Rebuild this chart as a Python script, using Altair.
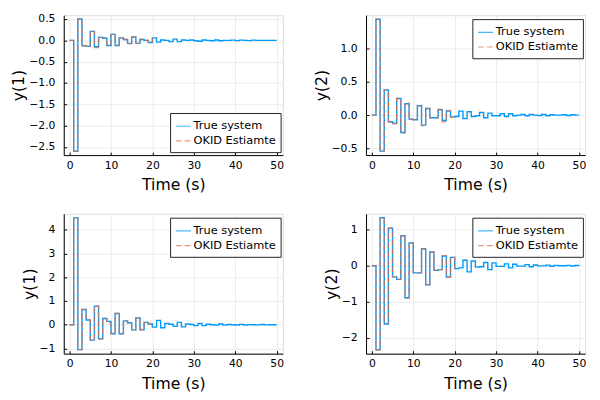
import altair as alt
import pandas as pd

# time samples
t_true = list(range(51))
t_est = list(range(21))

series_names = ["True system", "OKID Estiamte"]

# panel 1 : y(1), top-left
y11_true = [0, -2.60, 0.50, -0.13, -0.14, 0.21, -0.15, 0.07, 0.05, -0.12,
            0.14, -0.12, 0.06, 0.02, -0.07, 0.08, -0.07, 0.02, 0.00, -0.05,
            0.06, -0.04, 0.01, 0.00, -0.03, 0.03, -0.03, 0.01, 0.00, 0.01,
            -0.01, -0.02, 0.01, 0.00, -0.01, 0.01, -0.01, 0.00, 0.00, 0.005,
            -0.005, 0.005, 0.00, -0.005, 0.005, 0.00, 0.00, 0.00, 0.00, 0.00, 0.00]
y11_est = [0, -2.60, 0.50, -0.12, -0.14, 0.21, -0.17, 0.07, 0.06, -0.12,
           0.14, -0.11, 0.06, 0.02, -0.08, 0.08, -0.07, 0.03, 0.00, -0.04, 0.06]

# panel 2 : y(2), top-right
y21_true = [0, 1.44, -0.54, 0.38, -0.10, -0.12, 0.25, -0.26, 0.17, -0.06,
            -0.07, 0.14, -0.15, 0.10, -0.04, -0.04, 0.08, -0.08, 0.06, -0.03,
            -0.02, 0.06, -0.05, 0.05, -0.02, -0.01, 0.04, -0.04, 0.03, -0.01,
            -0.01, 0.02, -0.02, 0.02, -0.01, 0.00, 0.01, -0.01, 0.01, 0.00,
            -0.005, 0.01, -0.01, 0.005, 0.00, 0.00, 0.005, -0.005, 0.005, 0.00, 0.00]
y21_est = [0, 1.44, -0.54, 0.38, -0.10, -0.13, 0.25, -0.27, 0.18, -0.06,
           -0.07, 0.15, -0.16, 0.10, -0.04, -0.04, 0.09, -0.10, 0.07, -0.03, -0.02]

# panel 3 : y(1), bottom-left
y12_true = [0, 4.50, -1.05, 0.64, 0.20, -0.65, 0.78, -0.59, 0.26, 0.14,
            -0.38, 0.47, -0.38, 0.16, 0.08, -0.22, 0.28, -0.22, 0.10, 0.03,
            -0.10, 0.18, -0.13, 0.05, 0.02, -0.07, 0.10, -0.09, 0.03, 0.01,
            -0.04, 0.05, -0.04, 0.02, 0.00, -0.02, 0.03, -0.02, 0.01, 0.00,
            -0.01, 0.015, -0.01, 0.005, 0.00, -0.005, 0.01, -0.005, 0.00, 0.00, 0.00]
y12_est = [0, 4.50, -1.05, 0.64, 0.21, -0.65, 0.78, -0.59, 0.26, 0.08,
           -0.36, 0.47, -0.38, 0.16, 0.06, -0.22, 0.28, -0.20, 0.10, 0.05, -0.10]

# panel 4 : y(2), bottom-right
y22_true = [0, -2.33, 1.33, -1.62, 1.04, -0.31, -0.38, 0.83, -0.89, 0.63,
            -0.20, -0.20, 0.47, -0.53, 0.38, -0.13, -0.11, 0.27, -0.31, 0.23,
            -0.08, -0.06, 0.15, -0.17, 0.13, -0.04, -0.03, 0.09, -0.11, 0.08,
            -0.02, -0.02, 0.05, -0.06, 0.04, -0.01, -0.01, 0.03, -0.03, 0.02,
            -0.005, -0.005, 0.015, -0.015, 0.01, 0.00, 0.00, 0.008, -0.008, 0.005, 0.00]
y22_est = [0, -2.33, 1.33, -1.60, 1.04, -0.31, -0.38, 0.83, -0.90, 0.63,
           -0.20, -0.20, 0.47, -0.52, 0.38, -0.13, -0.11, 0.28, -0.32, 0.23, -0.07]

x_ticks = [0, 10, 20, 30, 40, 50]

FONT = "DejaVu Sans"
BLUE = "#009AFA"
ORANGE = "#E36F47"

axis_style = dict(domainColor="black", domainWidth=1, tickColor="black",
                  tickSize=alt.ExprRef("-3"), gridColor="#ececec", gridWidth=1,
                  labelFont=FONT, labelFontSize=11, labelColor="black",
                  titleFont=FONT, titleFontSize=16, titleFontWeight="normal",
                  titleColor="black")


def panel(true_vals, est_vals, ylabel, ydomain, yticks, yfmt, lx, ly):
    df = pd.DataFrame({
        "t": t_true + t_est,
        "y": true_vals + est_vals,
        "series": [series_names[0]] * len(t_true) + [series_names[1]] * len(t_est),
    })
    leg = dict(title=None, orient="none", legendX=lx, legendY=ly,
               strokeColor="#222222", fillColor="white", padding=5,
               cornerRadius=0, labelFont=FONT, labelFontSize=11.6,
               labelColor="black", symbolType="stroke", symbolStrokeWidth=1.2,
               symbolSize=240, rowPadding=0, labelOffset=2, labelLimit=200)
    x = alt.X("t:Q", scale=alt.Scale(domain=[-1.4, 51.5], nice=False, zero=False),
              axis=alt.Axis(title="Time (s)", values=x_ticks, format="d",
                            labelPadding=7.5, titlePadding=7, **axis_style))
    y = alt.Y("y:Q", scale=alt.Scale(domain=ydomain, nice=False, zero=False),
              axis=alt.Axis(title=ylabel, values=yticks, format=yfmt,
                            labelPadding=12, titlePadding=2, **axis_style))
    color = alt.Color("series:N", scale=alt.Scale(domain=series_names, range=[BLUE, ORANGE]),
                      legend=alt.Legend(**leg))
    dash = alt.StrokeDash("series:N", scale=alt.Scale(domain=series_names, range=[[1, 0], [6, 3]]),
                          legend=alt.Legend(**leg))
    l_true = alt.Chart(df).mark_line(interpolate="step-after", strokeWidth=1.4, clip=True).transform_filter(
        alt.datum.series == series_names[0]).encode(x=x, y=y, color=color, strokeDash=dash)
    l_est = alt.Chart(df).mark_line(interpolate="step-after", strokeWidth=1.4, opacity=0.7, clip=True).transform_filter(
        alt.datum.series == series_names[1]).encode(x=x, y=y, color=color, strokeDash=dash)
    return alt.layer(l_true, l_est).properties(width=224, height=143)


p1 = panel(y11_true, y11_est, "y(1)", [-2.69, 0.59], [0.5, 0, -0.5, -1, -1.5, -2, -2.5], ".1f", 108.7, 100)
p2 = panel(y21_true, y21_est, "y(2)", [-0.6, 1.5], [-0.5, 0, 0.5, 1.0], ".1f", 108.7, 4)
p3 = panel(y12_true, y12_est, "y(1)", [-1.22, 4.67], [-1, 0, 1, 2, 3, 4], "d", 108.7, 4)
p4 = panel(y22_true, y22_est, "y(2)", [-2.44, 1.44], [-2, -1, 0, 1], "d", 108.7, 4)

chart = alt.concat(p1, p2, p3, p4, columns=2, spacing={"row": 20, "column": 28}).resolve_legend(
    color="independent", strokeDash="independent"
).properties(
    padding={"left": 2, "top": 0, "right": 5, "bottom": 5}
).configure_view(
    strokeWidth=0
).configure(background="white")

chart.save("out.html", embed_options={"renderer": "svg", "actions": False})
